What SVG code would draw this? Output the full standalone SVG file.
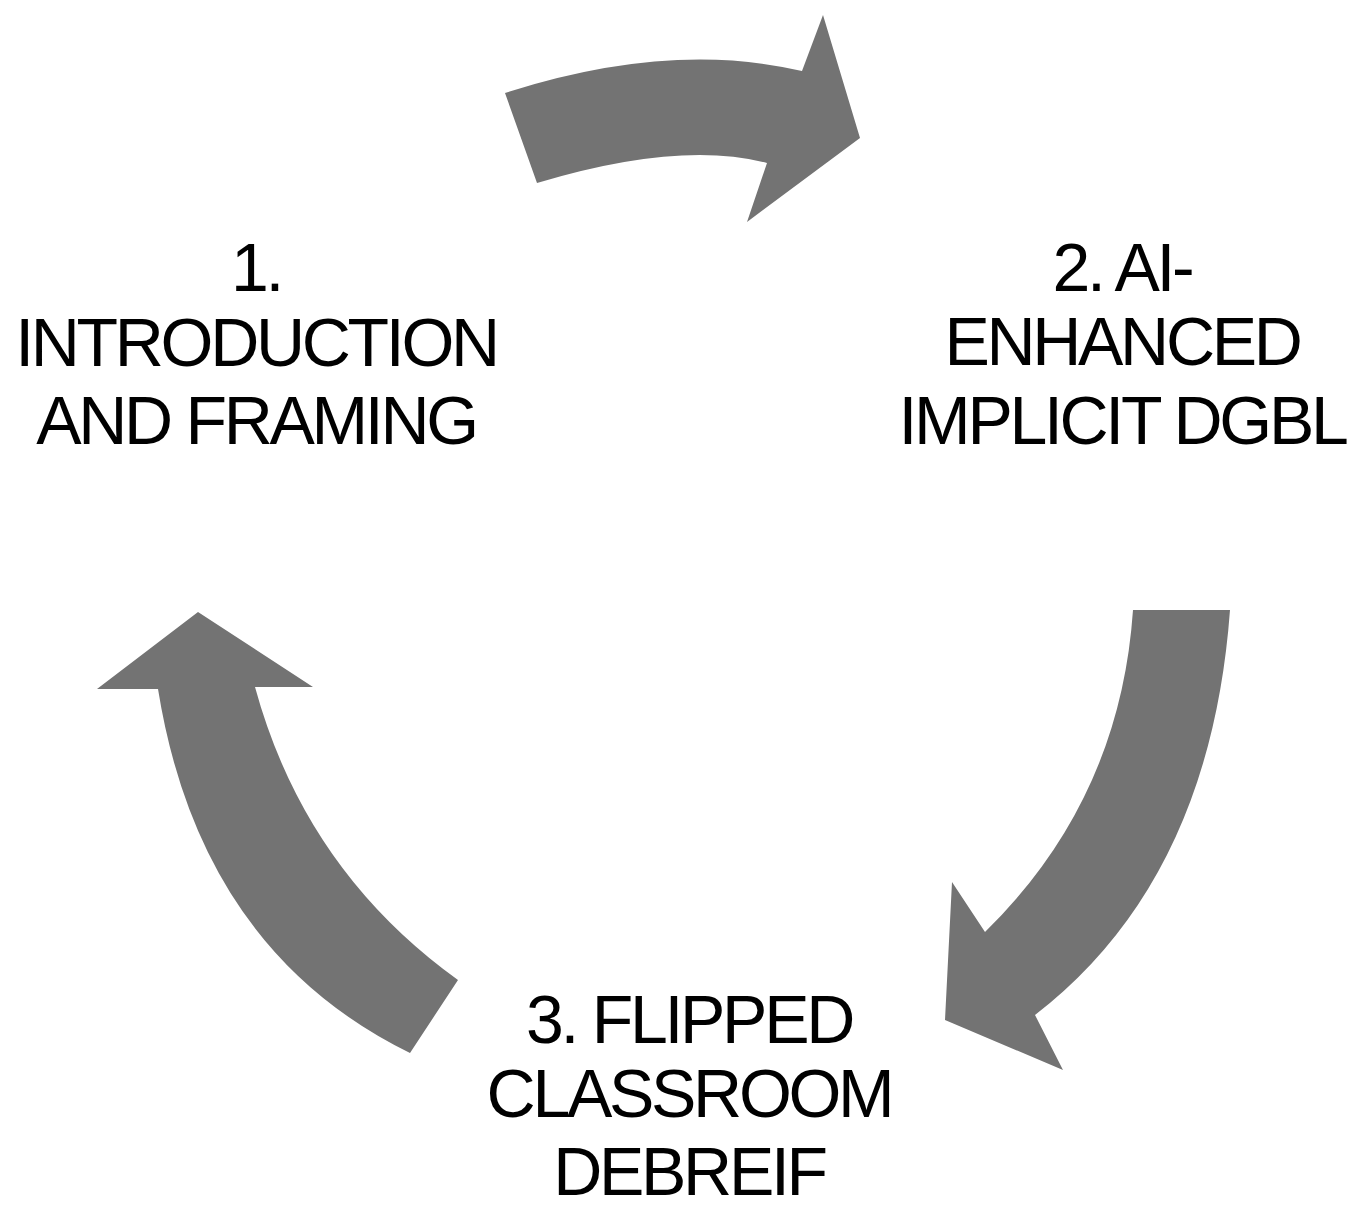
<svg xmlns="http://www.w3.org/2000/svg" width="1358" height="1214" viewBox="0 0 1358 1214">
<style>
.arrow{fill:#737373;stroke:none}
.lbl{font-family:"Liberation Sans",Arial,sans-serif;font-size:68px;fill:#000;text-anchor:middle;letter-spacing:-3.3px}
</style>
<rect width="1358" height="1214" fill="#fff"/>
<g id="connectors">
<path class="arrow" d="M505,93 Q670,40 802,71 L823,15 L860,138 L747,222 L767,163 Q680,140 537,183 Z"/>
<path class="arrow" d="M1133,610 L1230,610 Q1210,880 1035,1015 L1063,1070 L945,1020 L952,882 L985,932 Q1120,800 1133,610 Z"/>
<path class="arrow" d="M458,980 L410,1053 Q200,950 158,689 L97,689 L198,612 L313,687 L255,687 Q305,870 458,980 Z"/>
</g>
<g id="node1">
<text class="lbl" x="256" y="291">1.</text>
<text class="lbl" x="256" y="366">INTRODUCTION</text>
<text class="lbl" x="256" y="444">AND FRAMING</text>
</g>
<g id="node2">
<text class="lbl" x="1122" y="291">2. AI-</text>
<text class="lbl" x="1122" y="365">ENHANCED</text>
<text class="lbl" x="1122" y="444">IMPLICIT DGBL</text>
</g>
<g id="node3">
<text class="lbl" x="689" y="1043">3. FLIPPED</text>
<text class="lbl" x="689" y="1117">CLASSROOM</text>
<text class="lbl" x="689" y="1195">DEBREIF</text>
</g>
</svg>
